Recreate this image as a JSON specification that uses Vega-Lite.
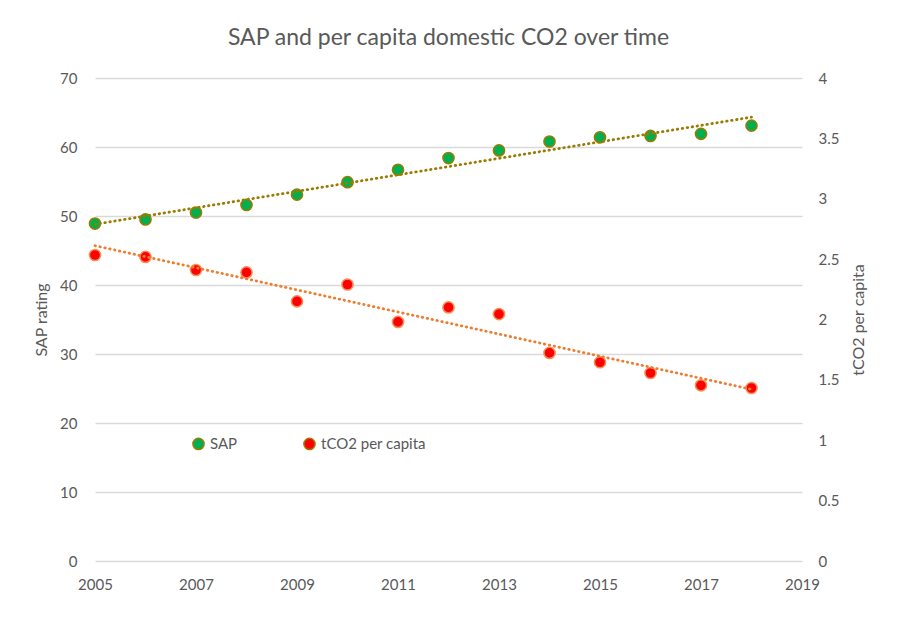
{
  "$schema": "https://vega.github.io/schema/vega-lite/v6.json",
  "width": 707,
  "height": 483,
  "autosize": "none",
  "padding": {"left": 95, "right": 99, "top": 78, "bottom": 63},
  "background": "white",
  "title": {
    "text": "SAP and per capita domestic CO2 over time",
    "fontSize": 23,
    "font": "Lato",
    "fontWeight": "normal",
    "color": "#595959",
    "anchor": "middle",
    "baseline": "alphabetic",
    "offset": 3
  },
  "data": {
    "values": [
      {"year": 2005, "sap": 48.9, "co2": 2.534},
      {"year": 2006, "sap": 49.5, "co2": 2.518},
      {"year": 2007, "sap": 50.5, "co2": 2.41},
      {"year": 2008, "sap": 51.6, "co2": 2.39},
      {"year": 2009, "sap": 53.1, "co2": 2.15},
      {"year": 2010, "sap": 54.9, "co2": 2.29},
      {"year": 2011, "sap": 56.7, "co2": 1.98},
      {"year": 2012, "sap": 58.4, "co2": 2.1},
      {"year": 2013, "sap": 59.5, "co2": 2.045},
      {"year": 2014, "sap": 60.8, "co2": 1.723},
      {"year": 2015, "sap": 61.4, "co2": 1.646},
      {"year": 2016, "sap": 61.6, "co2": 1.557},
      {"year": 2017, "sap": 61.9, "co2": 1.455},
      {"year": 2018, "sap": 63.1, "co2": 1.433}
    ]
  },
  "encoding": {
    "x": {
      "field": "year",
      "type": "quantitative",
      "scale": {"domain": [2005, 2019], "nice": false, "zero": false},
      "axis": {
        "title": null,
        "values": [2005, 2007, 2009, 2011, 2013, 2015, 2017, 2019],
        "format": "d",
        "grid": false,
        "domain": false,
        "ticks": false,
        "labelFlush": false,
        "labelPadding": 16,
        "labelFontSize": 15,
        "labelFont": "Lato",
        "labelColor": "#595959"
      }
    }
  },
  "layer": [
    {
      "layer": [
        {
          "mark": {"type": "point", "filled": true, "size": 125, "stroke": "#9C7A00", "strokeWidth": 1.5, "opacity": 1},
          "encoding": {
            "y": {
              "field": "sap",
              "type": "quantitative",
              "scale": {"domain": [0, 70], "nice": false},
              "axis": {
                "title": "SAP rating",
                "orient": "left",
                "values": [0, 10, 20, 30, 40, 50, 60, 70],
                "grid": true,
                "gridColor": "#D9D9D9",
                "gridWidth": 1.3,
                "domain": false,
                "ticks": false,
                "labelPadding": 18,
                "labelFontSize": 15,
                "labelFont": "Lato",
                "labelColor": "#595959",
                "titleFont": "Lato",
                "titleFontSize": 16,
                "titleFontWeight": "normal",
                "titleColor": "#595959",
                "titlePadding": 10
              }
            },
            "color": {
              "datum": "SAP",
              "type": "nominal",
              "scale": {"domain": ["SAP", "tCO2 per capita"], "range": ["#00B050", "#FF0000"]},
              "legend": {
                "title": null,
                "orient": "none",
                "legendX": 96,
                "legendY": 358,
                "direction": "horizontal",
                "columnPadding": 62,
                "symbolType": "circle",
                "symbolSize": 125,
                "symbolStrokeWidth": 1.5,
                "labelFontSize": 15,
                "labelFont": "Lato",
                "labelColor": "#595959",
                "labelOffset": 4,
                "encode": {
                  "symbols": {
                    "update": {
                      "stroke": {"signal": "datum.value === 'SAP' ? '#9C7A00' : '#F1915A'"},
                      "opacity": {"value": 1}
                    }
                  }
                }
              }
            }
          }
        },
        {
          "transform": [{"regression": "sap", "on": "year"}],
          "mark": {"type": "line", "color": "#9C7A00", "strokeWidth": 2.8, "strokeDash": [0.5, 4.5], "strokeCap": "round"},
          "encoding": {
            "y": {"field": "sap", "type": "quantitative"}
          }
        }
      ]
    },
    {
      "layer": [
        {
          "mark": {"type": "point", "filled": true, "size": 125, "stroke": "#F1915A", "strokeWidth": 1.5, "opacity": 1},
          "encoding": {
            "y": {
              "field": "co2",
              "type": "quantitative",
              "scale": {"domain": [0, 4], "nice": false},
              "axis": {
                "title": "tCO2 per capita",
                "orient": "right",
                "values": [0, 0.5, 1, 1.5, 2, 2.5, 3, 3.5, 4],
                "format": "~g",
                "grid": false,
                "domain": false,
                "ticks": false,
                "labelPadding": 16,
                "labelFontSize": 15,
                "labelFont": "Lato",
                "labelColor": "#595959",
                "titleFont": "Lato",
                "titleFontSize": 16,
                "titleFontWeight": "normal",
                "titleColor": "#595959",
                "titleAngle": 270,
                "titleBaseline": "top",
                "titlePadding": 12
              }
            },
            "color": {"datum": "tCO2 per capita", "type": "nominal"}
          }
        },
        {
          "transform": [{"regression": "co2", "on": "year"}],
          "mark": {"type": "line", "color": "#ED7D31", "strokeWidth": 2.8, "strokeDash": [0.5, 4.5], "strokeCap": "round"},
          "encoding": {
            "y": {"field": "co2", "type": "quantitative"}
          }
        }
      ]
    }
  ],
  "resolve": {"scale": {"y": "independent"}},
  "config": {"view": {"stroke": null}}
}
